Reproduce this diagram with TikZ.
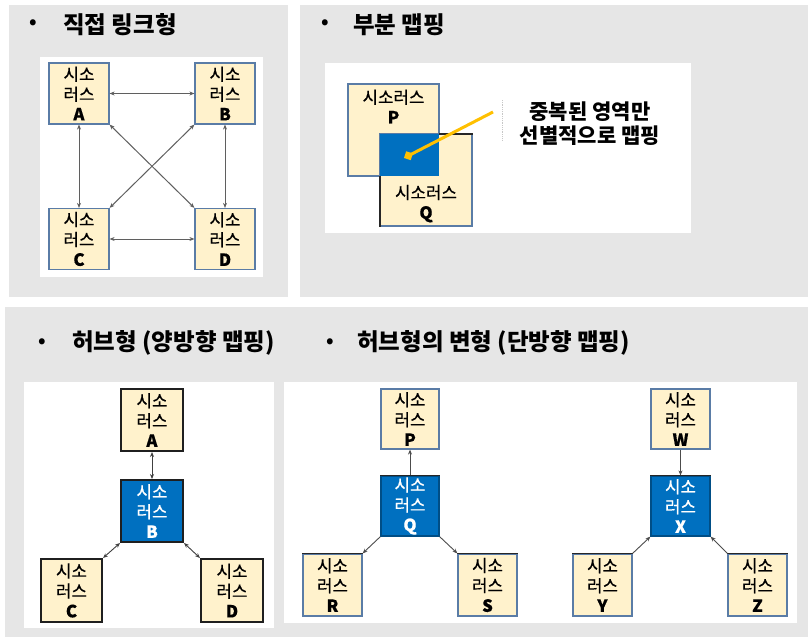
\documentclass[tikz,border=0pt]{standalone}
\usepackage{fontspec}
\setmainfont{Noto Sans CJK KR}
\newfontfamily\boxfam[FakeBold=0.5]{Noto Sans CJK KR}
\usetikzlibrary{arrows.meta}
\definecolor{panelgray}{HTML}{E6E6E6}
\definecolor{boxfill}{HTML}{FFF2CC}
\definecolor{boxline}{HTML}{5A7CA6}
\definecolor{hubblue}{HTML}{0070C0}
\definecolor{linkgray}{HTML}{5F5F5F}
\definecolor{callyellow}{HTML}{FFC000}
\tikzset{
  panel/.style={fill=panelgray, draw=none},
  whitearea/.style={fill=white, draw=none},
  titletext/.style={anchor=west, inner sep=0, font=\fontsize{23.5}{27}\selectfont\bfseries},
  bulletmark/.style={inner sep=0, font=\fontsize{19}{20}\selectfont\bfseries},
  boxfont/.style={font=\boxfam\fontsize{16.8}{20}\selectfont},
  tbox/.style={rectangle, draw=boxline, line width=1.2pt, fill=boxfill, align=center, inner sep=0, boxfont},
  darkbox/.style={tbox, draw=black!88, line width=2pt},
  bluebox/.style={tbox, fill=hubblue, text=white, draw=hubblue!70!black},
  darkbluebox/.style={bluebox, draw=black!88, line width=2pt},
  link/.style={draw=linkgray, line width=1pt, {Stealth[length=5pt,width=4pt]}-{Stealth[length=5pt,width=4pt]}},
  hublink/.style={draw=black!75, line width=0.9pt, {Stealth[length=5pt,width=4pt]}-{Stealth[length=5pt,width=4pt]}},
  onelink/.style={draw=black!70, line width=0.9pt, -{Stealth[length=5pt,width=4pt]}},
  darkedge/.style={draw=black!85, line width=1.8pt},
}
\begin{document}
\begin{tikzpicture}[x=1pt,y=-1pt]
\useasboundingbox (0,0) rectangle (808,637);
\fill[white] (0,0) rectangle (808,637);
% panels
\path[panel] (9,5) rectangle (288,297);
\path[panel] (300,5) rectangle (808,297);
\path[panel] (5,307) rectangle (808,637);
\path[whitearea] (40,57) rectangle (263,277);
\path[whitearea] (325,63) rectangle (691,233);
\path[whitearea] (24,382) rectangle (274,628);
\path[whitearea] (284,382) rectangle (797,623);

% titles
\node[bulletmark] (b1) at (33,24) {•};
\node[titletext] (t1) at (63,25) {직접 링크형};
\node[bulletmark] (b2) at (325,24) {•};
\node[titletext] (t2) at (353,25) {부분 맵핑};
\node[bulletmark] (b3) at (42,343) {•};
\node[titletext] (t3) at (72,343) {허브형 (양방향 맵핑)};
\node[bulletmark] (b4) at (330,343) {•};
\node[titletext] (t4) at (357,343) {허브형의 변형 (단방향 맵핑)};

% ---------- direct link ----------
\node[tbox, minimum width=60, minimum height=61] (dA) at (79,93.5) {시소\\러스\\\textbf{A}};
\node[tbox, minimum width=60, minimum height=61] (dB) at (225,93.5) {시소\\러스\\\textbf{B}};
\node[tbox, minimum width=60, minimum height=61] (dC) at (79,239) {시소\\러스\\\textbf{C}};
\node[tbox, minimum width=60, minimum height=61] (dD) at (225,239) {시소\\러스\\\textbf{D}};
\draw[link] (dA.east) -- (dB.west);
\draw[link] (dC.east) -- (dD.west);
\draw[link] (dA.south) -- (dC.north);
\draw[link] (dB.south) -- (dD.north);
\draw[link] (dA.south east) -- (dD.north west);
\draw[link] (dB.south west) -- (dC.north east);

% ---------- partial mapping ----------
\node[tbox, minimum width=91, minimum height=92,
  label={[anchor=north, yshift=-6pt, align=center, inner sep=0, boxfont]north:시소러스\\\textbf{P}}] (pP) at (393.5,130) {};
\node[tbox, minimum width=92, minimum height=92,
  label={[anchor=south, yshift=4pt, align=center, inner sep=0, boxfont]south:시소러스\\\textbf{Q}}] (pQ) at (426,180) {};
\fill[hubblue] (380,134) rectangle (439,176);
\draw[darkedge] (439,134) -- (472.6,134);
\draw[darkedge] (380,176) -- (380,226.6);
\draw[densely dotted, draw=black!22, line width=0.8pt] (502,100) -- (502,140);
\coordinate (callstart) at (493,112);
\coordinate (callend) at (404,158);
\draw[draw=callyellow, line width=3pt, -{Turned Square[length=10pt,width=10pt]}] (callstart) -- (callend);
\node[align=center, inner sep=0, font=\fontsize{21}{24}\selectfont\bfseries] (calltext) at (590,123.5) {중복된 영역만\\선별적으로 맵핑};

% ---------- hub (bidirectional) ----------
\node[darkbox, minimum width=62, minimum height=62] (hA) at (152,420) {시소\\러스\\\textbf{A}};
\node[darkbluebox, minimum width=62, minimum height=62] (hB) at (152,511) {시소\\러스\\\textbf{B}};
\node[darkbox, minimum width=61, minimum height=63] (hC) at (71.5,590.5) {시소\\러스\\\textbf{C}};
\node[darkbox, minimum width=62, minimum height=63] (hD) at (232,590.5) {시소\\러스\\\textbf{D}};
\draw[hublink] (hA.south) -- (hB.north);
\draw[hublink] (hB.south west) -- (hC.north east);
\draw[hublink] (hB.south east) -- (hD.north west);

% ---------- hub variant (one direction) ----------
\node[tbox, minimum width=58, minimum height=60] (vP) at (410,419) {시소\\러스\\\textbf{P}};
\node[bluebox, minimum width=58, minimum height=60] (vQ) at (410,506) {시소\\러스\\\textbf{Q}};
\node[tbox, minimum width=59, minimum height=62] (vR) at (332.5,585) {시소\\러스\\\textbf{R}};
\node[tbox, minimum width=59, minimum height=62] (vS) at (487.5,585) {시소\\러스\\\textbf{S}};
\draw[darkedge] (vQ.north west) -- (vQ.north east);
\draw[darkedge] (vR.north west) -- (vR.north east);
\draw[darkedge] (vS.north west) -- (vS.north east);
\draw[onelink] (vQ.north) -- (vP.south);
\draw[onelink] (vQ.south west) -- (vR.north east);
\draw[onelink] (vQ.south east) -- (vS.north west);

\node[tbox, minimum width=59, minimum height=60] (vW) at (680.5,419) {시소\\러스\\\textbf{W}};
\node[bluebox, minimum width=59, minimum height=60] (vX) at (680.5,506) {시소\\러스\\\textbf{X}};
\node[tbox, minimum width=59, minimum height=62] (vY) at (602.5,585) {시소\\러스\\\textbf{Y}};
\node[tbox, minimum width=59, minimum height=62] (vZ) at (757.5,585) {시소\\러스\\\textbf{Z}};
\draw[darkedge] (vX.north west) -- (vX.north east);
\draw[darkedge] (vY.north west) -- (vY.north east);
\draw[darkedge] (vZ.north west) -- (vZ.north east);
\draw[onelink] (vW.south) -- (vX.north);
\draw[onelink] (vY.north east) -- (vX.south west);
\draw[onelink] (vZ.north west) -- (vX.south east);
\end{tikzpicture}
\end{document}
